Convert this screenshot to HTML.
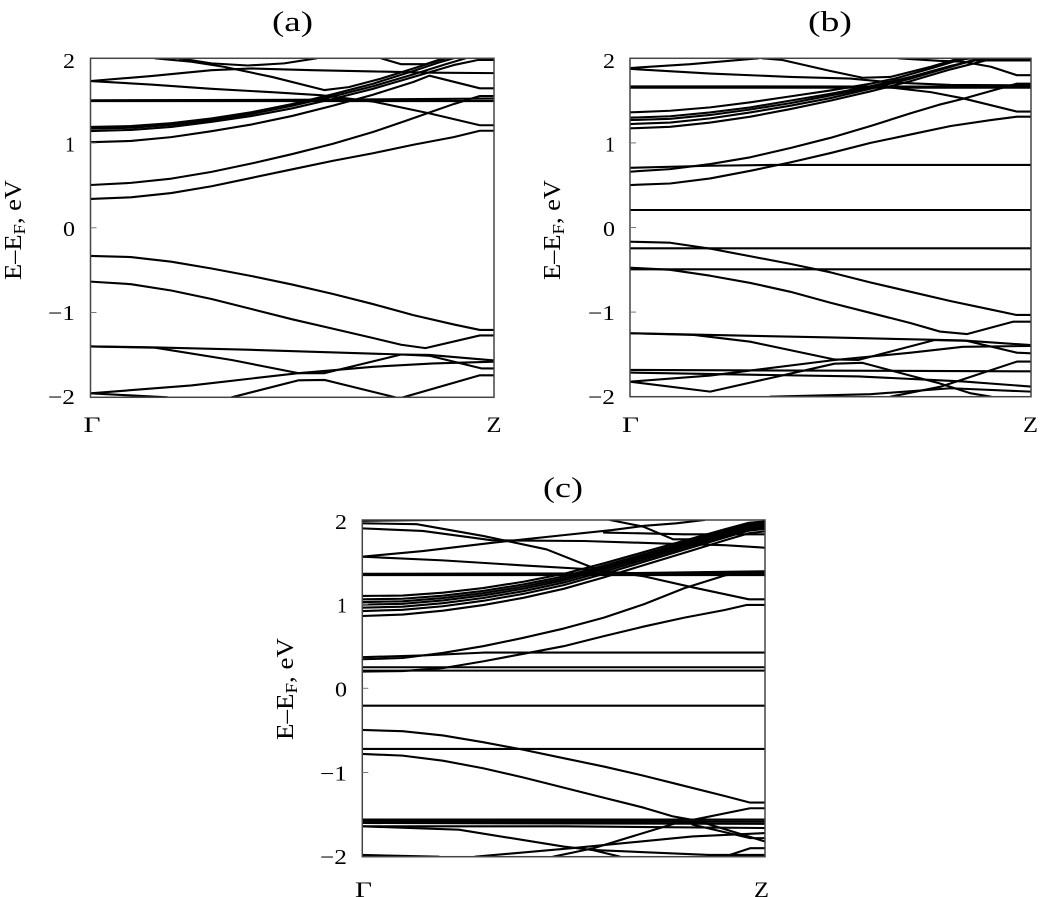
<!DOCTYPE html>
<html><head><meta charset="utf-8"><style>
html,body{margin:0;padding:0;background:#fff;}
svg{display:block;}
text{font-family:"Liberation Serif","Times New Roman",Times,serif;fill:#000;}
.b polyline{fill:none;stroke:#000;stroke-width:2.1;stroke-linejoin:round;stroke-linecap:round;}
</style></head><body>
<svg width="1044" height="897" viewBox="0 0 1044 897" xmlns="http://www.w3.org/2000/svg">
<defs>
<clipPath id="ca"><rect x="90.5" y="58.3" width="403.5" height="339"/></clipPath>
<clipPath id="cb"><rect x="630" y="58.3" width="401" height="338.4"/></clipPath>
<clipPath id="cc"><rect x="362.3" y="520" width="402.7" height="336.7"/></clipPath>
</defs>

<!-- ===== Panel (a) ===== -->
<text x="292.5" y="31" font-size="29" text-anchor="middle" textLength="41" lengthAdjust="spacingAndGlyphs">(a)</text>
<g clip-path="url(#ca)">
<g class="b" transform="translate(90.5,227.8) scale(403.5,-84.75)">
<polyline vector-effect="non-scaling-stroke" points="0,0.34 0.1,0.36 0.2,0.41 0.3,0.49 0.4,0.59 0.5,0.69 0.6,0.79 0.7,0.88 0.8,0.98 0.9,1.07 0.965,1.145 1,1.145"/>
<polyline vector-effect="non-scaling-stroke" points="0,0.505 0.1,0.53 0.2,0.58 0.3,0.66 0.4,0.76 0.5,0.87 0.6,0.99 0.7,1.13 0.78,1.26 0.84,1.36 0.9,1.46 0.965,1.555 1,1.555"/>
<polyline vector-effect="non-scaling-stroke" points="0,1.01 0.1,1.025 0.2,1.07 0.3,1.14 0.4,1.22 0.5,1.32 0.6,1.44 0.7,1.57 0.8,1.72 0.84,1.795 0.965,1.646 1,1.646"/>
<polyline vector-effect="non-scaling-stroke" points="0,1.142 0.1,1.155 0.2,1.19 0.3,1.25 0.4,1.32 0.5,1.41 0.6,1.52 0.7,1.64 0.8,1.78 0.9,1.92 0.96,1.98 1,1.98"/>
<polyline vector-effect="non-scaling-stroke" points="0,1.17 0.1,1.18 0.2,1.215 0.3,1.27 0.4,1.345 0.5,1.44 0.6,1.55 0.7,1.67 0.8,1.81 0.88,1.93 0.93,2.0"/>
<polyline vector-effect="non-scaling-stroke" points="0,1.19 0.1,1.2 0.2,1.235 0.3,1.29 0.4,1.365 0.5,1.46 0.6,1.575 0.7,1.70 0.8,1.85 0.87,1.96 0.9,2.0"/>
<polyline vector-effect="non-scaling-stroke" points="0,1.496 1,1.496"/>
<polyline vector-effect="non-scaling-stroke" points="0,1.505 0.5,1.51 1,1.525"/>
<polyline vector-effect="non-scaling-stroke" points="0,1.732 0.15,1.69 0.3,1.64 0.45,1.6 0.57,1.565 0.7,1.49 0.84,1.35 0.965,1.21 1,1.21"/>
<polyline vector-effect="non-scaling-stroke" points="0,1.732 0.15,1.79 0.3,1.86 0.4,1.88 0.55,1.86 0.7,1.845 0.85,1.83 1,1.825"/>
<polyline vector-effect="non-scaling-stroke" points="0.16,2.0 0.25,1.96 0.33,1.9 0.45,1.78 0.58,1.625 0.64,1.66 0.72,1.76 0.8,1.88 0.86,1.97 0.88,2.0"/>
<polyline vector-effect="non-scaling-stroke" points="0.22,2.0 0.3,1.94 0.39,1.915 0.48,1.94 0.56,2.0"/>
<polyline vector-effect="non-scaling-stroke" points="0.72,2.0 0.77,1.93 0.83,1.93 0.875,2.0"/>
<polyline vector-effect="non-scaling-stroke" points="0,-0.332 0.1,-0.345 0.2,-0.4 0.3,-0.48 0.4,-0.57 0.5,-0.67 0.6,-0.78 0.7,-0.9 0.8,-1.03 0.9,-1.14 0.965,-1.205 1,-1.205"/>
<polyline vector-effect="non-scaling-stroke" points="0,-0.635 0.1,-0.665 0.2,-0.74 0.3,-0.84 0.4,-0.96 0.5,-1.08 0.6,-1.19 0.7,-1.30 0.77,-1.38 0.83,-1.42 0.965,-1.27 1,-1.27"/>
<polyline vector-effect="non-scaling-stroke" points="0,-1.40 0.15,-1.41 0.4,-1.44 0.77,-1.495 0.84,-1.50 1,-1.565"/>
<polyline vector-effect="non-scaling-stroke" points="0,-1.40 0.16,-1.415 0.35,-1.56 0.515,-1.715 0.58,-1.715 0.77,-1.495 0.84,-1.51 0.97,-1.66 1,-1.66"/>
<polyline vector-effect="non-scaling-stroke" points="0,-1.953 0.25,-1.86 0.515,-1.715 0.7,-1.64 0.85,-1.6 1,-1.58"/>
<polyline vector-effect="non-scaling-stroke" points="0.35,-2.0 0.515,-1.80 0.58,-1.795 0.755,-2.0"/>
<polyline vector-effect="non-scaling-stroke" points="0.775,-2.0 0.965,-1.74 1,-1.74"/>
<polyline vector-effect="non-scaling-stroke" points="0,-1.953 0.19,-2.0"/>
</g></g>
<rect x="90.5" y="58.3" width="403.5" height="339" fill="none" stroke="#444" stroke-width="1.5"/>
<g stroke="#777" stroke-width="1"><line x1="90.5" y1="143" x2="96.5" y2="143"/><line x1="90.5" y1="227.8" x2="96.5" y2="227.8"/><line x1="90.5" y1="312.5" x2="96.5" y2="312.5"/></g>
<g font-size="21">
<text x="63" y="68" textLength="12" lengthAdjust="spacingAndGlyphs">2</text>
<text x="65" y="151.5" textLength="10" lengthAdjust="spacingAndGlyphs">1</text>
<text x="63" y="236" textLength="12" lengthAdjust="spacingAndGlyphs">0</text>
<text x="48" y="320" textLength="27" lengthAdjust="spacingAndGlyphs">−1</text>
<text x="48" y="404" textLength="27" lengthAdjust="spacingAndGlyphs">−2</text>
</g>
<text transform="translate(21,230) rotate(-90)" font-size="24" text-anchor="middle" textLength="100" lengthAdjust="spacingAndGlyphs">E–E<tspan dy="4" font-size="17">F</tspan><tspan dy="-4">, eV</tspan></text>
<text x="83.5" y="432" font-size="22" textLength="17" lengthAdjust="spacingAndGlyphs">Γ</text>
<text x="486.5" y="432" font-size="22" textLength="15" lengthAdjust="spacingAndGlyphs">Z</text>

<!-- ===== Panel (b) ===== -->
<text x="830" y="31" font-size="29" text-anchor="middle" textLength="44" lengthAdjust="spacingAndGlyphs">(b)</text>
<g clip-path="url(#cb)">
<g class="b" transform="translate(630,227.5) scale(401,-84.6)">
<polyline vector-effect="non-scaling-stroke" points="0,0.502 0.1,0.52 0.2,0.58 0.3,0.67 0.4,0.77 0.5,0.88 0.6,1.0 0.7,1.1 0.8,1.2 0.9,1.27 0.965,1.31 1,1.31"/>
<polyline vector-effect="non-scaling-stroke" points="0,0.66 0.1,0.69 0.2,0.75 0.3,0.83 0.4,0.94 0.5,1.06 0.6,1.2 0.7,1.35 0.77,1.45 0.83,1.52 0.965,1.70 1,1.70"/>
<polyline vector-effect="non-scaling-stroke" points="0,0.705 0.2,0.73 0.35,0.739 1,0.739"/>
<polyline vector-effect="non-scaling-stroke" points="0,0.207 1,0.207"/>
<polyline vector-effect="non-scaling-stroke" points="0,-0.246 1,-0.246"/>
<polyline vector-effect="non-scaling-stroke" points="0,-0.494 1,-0.494"/>
<polyline vector-effect="non-scaling-stroke" points="0,1.361 0.1,1.38 0.2,1.42 0.3,1.48 0.4,1.55 0.5,1.62 0.6,1.70 0.66,1.76 0.75,1.88 0.82,1.98 0.85,2.0"/>
<polyline vector-effect="non-scaling-stroke" points="0,1.298 0.1,1.315 0.2,1.36 0.3,1.42 0.4,1.5 0.5,1.58 0.6,1.67 0.7,1.78 0.8,1.91 0.86,1.975 1,1.975"/>
<polyline vector-effect="non-scaling-stroke" points="0,1.27 0.1,1.285 0.2,1.33 0.3,1.395 0.4,1.47 0.5,1.56 0.6,1.655 0.7,1.77 0.8,1.9 0.85,1.97 0.9,2.0"/>
<polyline vector-effect="non-scaling-stroke" points="0,1.223 0.1,1.24 0.2,1.29 0.3,1.36 0.4,1.44 0.5,1.53 0.6,1.64 0.7,1.76 0.8,1.9 0.87,2.0"/>
<polyline vector-effect="non-scaling-stroke" points="0,1.172 0.1,1.19 0.2,1.24 0.3,1.31 0.4,1.40 0.5,1.50 0.6,1.61 0.7,1.73 0.8,1.87 0.9,1.99 1,1.99"/>
<polyline vector-effect="non-scaling-stroke" points="0,1.652 1,1.652"/>
<polyline vector-effect="non-scaling-stroke" points="0,1.668 1,1.665"/>
<polyline vector-effect="non-scaling-stroke" points="0,1.875 0.2,1.82 0.4,1.78 0.55,1.76 0.65,1.715 0.8,1.685 1,1.68"/>
<polyline vector-effect="non-scaling-stroke" points="0,1.885 0.15,1.93 0.32,2.0"/>
<polyline vector-effect="non-scaling-stroke" points="0.33,2.0 0.38,1.98 0.5,1.85 0.58,1.77 0.65,1.78 0.75,1.90 0.8,1.97 0.82,2.0"/>
<polyline vector-effect="non-scaling-stroke" points="0.63,1.665 0.75,1.6 0.83,1.527 0.965,1.37 1,1.37"/>
<polyline vector-effect="non-scaling-stroke" points="0.67,2.0 0.77,1.97 0.83,1.96 0.9,1.9 0.965,1.80 1,1.80"/>
<polyline vector-effect="non-scaling-stroke" points="0,-0.168 0.1,-0.18 0.2,-0.25 0.3,-0.34 0.4,-0.43 0.5,-0.53 0.6,-0.65 0.7,-0.76 0.8,-0.87 0.9,-0.97 0.964,-1.034 1,-1.034"/>
<polyline vector-effect="non-scaling-stroke" points="0,-0.475 0.1,-0.5 0.2,-0.57 0.3,-0.655 0.4,-0.76 0.5,-0.89 0.6,-1.01 0.7,-1.13 0.773,-1.23 0.84,-1.26 0.956,-1.113 1,-1.113"/>
<polyline vector-effect="non-scaling-stroke" points="0,-1.25 0.5,-1.3 0.83,-1.335 1,-1.39"/>
<polyline vector-effect="non-scaling-stroke" points="0,-1.25 0.16,-1.27 0.3,-1.35 0.51,-1.56 0.57,-1.565 0.76,-1.33 0.84,-1.34 0.965,-1.48 1,-1.487"/>
<polyline vector-effect="non-scaling-stroke" points="0,-1.684 1,-1.70"/>
<polyline vector-effect="non-scaling-stroke" points="0,-1.715 0.3,-1.74 0.57,-1.76 0.83,-1.82 1,-1.88"/>
<polyline vector-effect="non-scaling-stroke" points="0,-1.822 0.2,-1.75 0.51,-1.566 0.7,-1.48 0.83,-1.41 1,-1.40"/>
<polyline vector-effect="non-scaling-stroke" points="0,-1.822 0.2,-1.94 0.35,-1.78 0.51,-1.61 0.58,-1.6 0.77,-1.84 0.85,-1.96 0.9,-2.0"/>
<polyline vector-effect="non-scaling-stroke" points="0.65,-2.0 0.776,-1.88 0.965,-1.585 1,-1.585"/>
<polyline vector-effect="non-scaling-stroke" points="0.35,-2.0 0.6,-1.97 0.8,-1.9 1,-1.94"/>
</g></g>
<rect x="630" y="58.3" width="401" height="338.4" fill="none" stroke="#444" stroke-width="1.5"/>
<g stroke="#777" stroke-width="1"><line x1="630" y1="142.9" x2="636" y2="142.9"/><line x1="630" y1="227.5" x2="636" y2="227.5"/><line x1="630" y1="312.1" x2="636" y2="312.1"/></g>
<g font-size="21">
<text x="603" y="68" textLength="12" lengthAdjust="spacingAndGlyphs">2</text>
<text x="605" y="151.5" textLength="10" lengthAdjust="spacingAndGlyphs">1</text>
<text x="603" y="236" textLength="12" lengthAdjust="spacingAndGlyphs">0</text>
<text x="588" y="320" textLength="27" lengthAdjust="spacingAndGlyphs">−1</text>
<text x="588" y="404" textLength="27" lengthAdjust="spacingAndGlyphs">−2</text>
</g>
<text transform="translate(560,230) rotate(-90)" font-size="24" text-anchor="middle" textLength="100" lengthAdjust="spacingAndGlyphs">E–E<tspan dy="4" font-size="17">F</tspan><tspan dy="-4">, eV</tspan></text>
<text x="622" y="432" font-size="22" textLength="17" lengthAdjust="spacingAndGlyphs">Γ</text>
<text x="1023" y="432" font-size="22" textLength="15" lengthAdjust="spacingAndGlyphs">Z</text>

<!-- ===== Panel (c) ===== -->
<text x="563" y="497" font-size="29" text-anchor="middle" textLength="40" lengthAdjust="spacingAndGlyphs">(c)</text>
<g clip-path="url(#cc)">
<g class="b" transform="translate(362.3,688.3) scale(402.7,-84.17)">
<polyline vector-effect="non-scaling-stroke" points="0,0.198 0.1,0.205 0.2,0.24 0.3,0.32 0.4,0.41 0.5,0.5 0.6,0.62 0.7,0.735 0.8,0.84 0.9,0.93 0.954,0.99 1,0.99"/>
<polyline vector-effect="non-scaling-stroke" points="0,0.345 0.1,0.36 0.2,0.42 0.3,0.5 0.4,0.6 0.5,0.71 0.6,0.84 0.7,1.0 0.8,1.19 0.9,1.34 0.954,1.386 1,1.386"/>
<polyline vector-effect="non-scaling-stroke" points="0,0.37 0.15,0.39 0.3,0.424 1,0.424"/>
<polyline vector-effect="non-scaling-stroke" points="0,0.25 1,0.25"/>
<polyline vector-effect="non-scaling-stroke" points="0,0.21 1,0.21"/>
<polyline vector-effect="non-scaling-stroke" points="0,-0.206 1,-0.206"/>
<polyline vector-effect="non-scaling-stroke" points="0,-0.72 1,-0.72"/>
<polyline vector-effect="non-scaling-stroke" points="0,1.097 0.1,1.102 0.2,1.136 0.3,1.191 0.4,1.266 0.5,1.36 0.6,1.485 0.7,1.62 0.8,1.754 0.9,1.889 0.96,1.966 1,1.984"/>
<polyline vector-effect="non-scaling-stroke" points="0,1.057 0.1,1.064 0.2,1.10 0.3,1.157 0.4,1.234 0.5,1.33 0.6,1.457 0.7,1.594 0.8,1.73 0.9,1.867 0.96,1.945 1,1.964"/>
<polyline vector-effect="non-scaling-stroke" points="0,1.025 0.1,1.033 0.2,1.072 0.3,1.13 0.4,1.208 0.5,1.306 0.6,1.435 0.7,1.573 0.8,1.711 0.9,1.849 0.96,1.928 1,1.948"/>
<polyline vector-effect="non-scaling-stroke" points="0,0.994 0.1,1.004 0.2,1.044 0.3,1.103 0.4,1.183 0.5,1.283 0.6,1.413 0.7,1.553 0.8,1.692 0.9,1.832 0.96,1.912 1,1.932"/>
<polyline vector-effect="non-scaling-stroke" points="0,0.958 0.1,0.97 0.2,1.011 0.3,1.073 0.4,1.154 0.5,1.256 0.6,1.388 0.7,1.529 0.8,1.671 0.9,1.812 0.96,1.893 1,1.914"/>
<polyline vector-effect="non-scaling-stroke" points="0,0.918 0.1,0.932 0.2,0.975 0.3,1.039 0.4,1.122 0.5,1.226 0.6,1.36 0.7,1.503 0.8,1.647 0.9,1.79 0.96,1.873 1,1.894"/>
<polyline vector-effect="non-scaling-stroke" points="0,0.859 0.1,0.876 0.2,0.922 0.3,0.989 0.4,1.075 0.5,1.182 0.6,1.318 0.7,1.465 0.8,1.611 0.9,1.758 0.96,1.842 1,1.865"/>
<polyline vector-effect="non-scaling-stroke" points="0,1.345 1,1.345"/>
<polyline vector-effect="non-scaling-stroke" points="0,1.36 0.6,1.365 1,1.39"/>
<polyline vector-effect="non-scaling-stroke" points="0,1.564 0.2,1.52 0.4,1.46 0.58,1.41 0.7,1.33 0.82,1.2 0.96,1.057 1,1.057"/>
<polyline vector-effect="non-scaling-stroke" points="0,1.564 0.15,1.63 0.325,1.73 0.5,1.82 0.62,1.88 0.7,1.93 0.78,1.96 0.85,2.0"/>
<polyline vector-effect="non-scaling-stroke" points="0.615,2.0 0.698,1.92 0.772,1.77 0.83,1.77 0.905,1.88 1,1.98"/>
<polyline vector-effect="non-scaling-stroke" points="0,1.90 0.15,1.87 0.32,1.76 0.39,1.755 0.55,1.75 0.75,1.72 0.9,1.70 1,1.67"/>
<polyline vector-effect="non-scaling-stroke" points="0,1.96 0.135,1.95 0.3,1.81 0.458,1.65 0.6,1.38 0.7,1.365 1,1.365"/>
<polyline vector-effect="non-scaling-stroke" points="0,1.99 0.19,2.0"/>
<polyline vector-effect="non-scaling-stroke" points="0.6,1.85 0.8,1.83 1,1.83"/>
<polyline vector-effect="non-scaling-stroke" points="0,-0.495 0.1,-0.51 0.2,-0.56 0.3,-0.64 0.4,-0.73 0.5,-0.83 0.6,-0.93 0.7,-1.04 0.8,-1.16 0.9,-1.28 0.963,-1.358 1,-1.358"/>
<polyline vector-effect="non-scaling-stroke" points="0,-0.78 0.1,-0.8 0.2,-0.86 0.3,-0.95 0.4,-1.06 0.5,-1.18 0.6,-1.30 0.7,-1.42 0.77,-1.52 0.82,-1.564 0.963,-1.425 1,-1.425"/>
<polyline vector-effect="non-scaling-stroke" points="0,-1.56 1,-1.56"/>
<polyline vector-effect="non-scaling-stroke" points="0,-1.58 1,-1.585"/>
<polyline vector-effect="non-scaling-stroke" points="0,-1.60 1,-1.61"/>
<polyline vector-effect="non-scaling-stroke" points="0,-1.64 0.5,-1.64 1,-1.66"/>
<polyline vector-effect="non-scaling-stroke" points="0,-1.64 0.24,-1.68 0.5,-1.88 0.57,-1.92 0.64,-2.0"/>
<polyline vector-effect="non-scaling-stroke" points="0.28,-2.0 0.52,-1.9 0.82,-1.76 1,-1.72"/>
<polyline vector-effect="non-scaling-stroke" points="0.474,-2.0 0.574,-1.9 0.78,-1.6 0.84,-1.585 1,-1.82"/>
<polyline vector-effect="non-scaling-stroke" points="0.82,-1.62 0.963,-1.78 1,-1.78"/>
<polyline vector-effect="non-scaling-stroke" points="0.57,-1.92 0.86,-1.98 1,-1.98"/>
<polyline vector-effect="non-scaling-stroke" points="0.9,-2.0 0.963,-1.9 1,-1.9"/>
<polyline vector-effect="non-scaling-stroke" points="0,-1.98 0.19,-2.0"/>
</g></g>
<rect x="362.3" y="520" width="402.7" height="336.7" fill="none" stroke="#444" stroke-width="1.5"/>
<g stroke="#777" stroke-width="1"><line x1="362.3" y1="604.2" x2="368.3" y2="604.2"/><line x1="362.3" y1="688.3" x2="368.3" y2="688.3"/><line x1="362.3" y1="772.5" x2="368.3" y2="772.5"/></g>
<g font-size="21">
<text x="335" y="529" textLength="12" lengthAdjust="spacingAndGlyphs">2</text>
<text x="337" y="612.5" textLength="10" lengthAdjust="spacingAndGlyphs">1</text>
<text x="335" y="696.5" textLength="12" lengthAdjust="spacingAndGlyphs">0</text>
<text x="320" y="780.5" textLength="27" lengthAdjust="spacingAndGlyphs">−1</text>
<text x="320" y="864" textLength="27" lengthAdjust="spacingAndGlyphs">−2</text>
</g>
<text transform="translate(293,689) rotate(-90)" font-size="24" text-anchor="middle" textLength="102" lengthAdjust="spacingAndGlyphs">E–E<tspan dy="4" font-size="17">F</tspan><tspan dy="-4">, eV</tspan></text>
<text x="355" y="897" font-size="22" textLength="17" lengthAdjust="spacingAndGlyphs">Γ</text>
<text x="754" y="897" font-size="22" textLength="15" lengthAdjust="spacingAndGlyphs">Z</text>
</svg>
</body></html>
